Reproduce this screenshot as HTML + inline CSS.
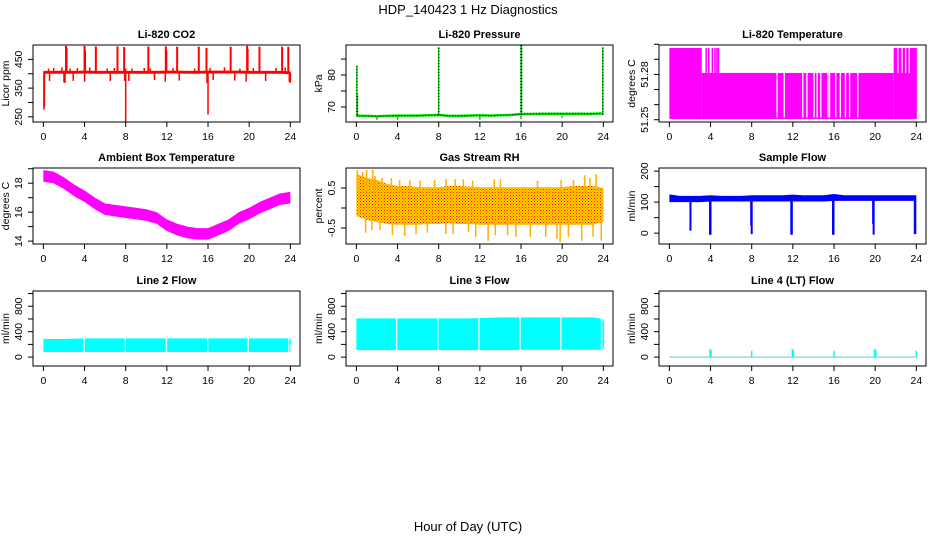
<!DOCTYPE html>
<html><head><meta charset="utf-8"><title>HDP_140423 1 Hz Diagnostics</title>
<style>
html,body{margin:0;padding:0;background:#fff;}
svg{display:block;font-family:"Liberation Sans",Arial,sans-serif;}
.t{font-size:11px;font-weight:bold;text-anchor:middle;}
.tk{font-size:10.5px;text-anchor:middle;}
.yl{font-size:10.5px;text-anchor:middle;}
</style></head>
<body>
<svg id="chart" width="936" height="540" viewBox="0 0 936 540">
<defs>
<pattern id="rhpat" width="3" height="3" patternUnits="userSpaceOnUse">
<rect width="3" height="3" fill="#ffcc00"/><rect x="0" y="0" width="1" height="1" fill="#ff1a00"/><rect x="1.5" y="1.5" width="1" height="1" fill="#ff5a00"/>
</pattern>
</defs>
<text x="468" y="14" font-size="13" text-anchor="middle">HDP_140423  1 Hz Diagnostics</text>
<text x="468" y="531" font-size="13" text-anchor="middle">Hour of Day (UTC)</text>
</svg>
<script>
// ---- data ----
const hours = [0,1,2,3,4,5,6,7,8,9,10,11,12,13,14,15,16,17,18,19,20,21,22,23,24];
const xTicks = [0,4,8,12,16,20,24];

const co2Lo = [400,400,400,400,401,400,400,400,400,400,400,400,401,401,400,400,401,401,401,401,400,400,400,400,398];
const co2Hi = [410,410,411,410,411,410,410,410,410,410,410,410,411,411,410,410,411,411,411,411,410,410,410,410,408];
const co2SpikeH = [2.2,2.25,4.0,4.05,5.1,7.2,7.85,10.2,11.9,11.95,13.0,15.1,15.85,18.2,19.8,19.85,21.0,23.2,23.8];
const co2SpikeV = [497,490,497,480,495,495,493,495,495,480,494,494,490,494,497,486,494,494,494];
const co2DipH = [0.05,0.1,8.0,16.0,2.0,2.9,0.6,6.5,7.9,8.3,10.8,11.85,13.2,15.9,16.5,18.6,19.7,21.6,23.9,24.0,4.0,2.1];
const co2DipV = [275,285,232,258,370,375,375,375,375,375,378,372,376,368,378,376,372,375,372,368,372,368];
const co2UpH = [1.0,1.8,2.6,3.3,4.5,6.2,6.9,8.6,9.8,10.4,12.6,14.7,16.2,17.6,19.1,20.4,22.6,23.5,0.5,8.0];
const co2UpV = [420,422,418,420,422,418,420,418,420,418,420,418,420,422,418,420,420,422,418,418];

const presBase = [67.2,67.2,67.1,67.2,67.3,67.3,67.3,67.4,67.5,67.2,67.2,67.3,67.4,67.3,67.4,67.5,67.8,67.8,67.9,67.9,67.9,67.9,67.9,67.9,68.0];
const presSpikeH = [0.05,0.1,8.0,16.0,16.05,23.95];
const presSpikeV = [83,74,88.8,89.5,89.5,88.8];
const presDipH = [2.0,4.0,12.0,16.0,20.0];
const presDipV = [66.0,66.0,66.0,66.2,66.6];

const tempSegStart = [0,3.15,21.8];
const tempSegEnd = [3.15,21.8,24.05];
const tempSegLevel = [51.2975,51.281,51.2975];
const tempTopH = [3.5,3.75,4.1,4.35,4.55,4.7];
const tempMidH = [22.15,22.55,22.9,23.25];
const tempGapH = [10.4,11.1,12.9,13.3,14.0,14.3,14.65,15.35,15.5,16.1,16.55,17.05,17.45,18.25];

const ambMid = [18.5,18.4,18.0,17.5,17.1,16.6,16.2,16.1,16.0,15.9,15.8,15.6,15.1,14.8,14.6,14.5,14.5,14.8,15.1,15.6,15.9,16.3,16.6,16.9,17.0];
const ambHalf = [0.4,0.4,0.4,0.4,0.4,0.4,0.4,0.4,0.4,0.4,0.4,0.4,0.4,0.4,0.4,0.4,0.4,0.4,0.4,0.4,0.4,0.4,0.4,0.4,0.4];

const rhHi = [0.85,0.75,0.7,0.6,0.55,0.55,0.52,0.52,0.52,0.55,0.55,0.53,0.52,0.52,0.52,0.52,0.52,0.52,0.52,0.52,0.52,0.55,0.55,0.55,0.5];
const rhLo = [-0.2,-0.3,-0.35,-0.4,-0.42,-0.42,-0.42,-0.4,-0.4,-0.38,-0.4,-0.4,-0.42,-0.42,-0.42,-0.42,-0.42,-0.42,-0.42,-0.42,-0.42,-0.42,-0.42,-0.42,-0.35];
const rhUpH = [0.1,0.6,1.0,1.6,1.8,2.5,3.4,4.2,5.2,6.2,7.6,8.7,9.6,10.4,11.3,13.4,14.0,17.6,19.9,21.1,22.2,22.7,23.3];
const rhUpV = [0.95,0.9,0.95,0.95,0.8,0.75,0.75,0.7,0.7,0.68,0.7,0.72,0.72,0.72,0.68,0.72,0.72,0.68,0.7,0.7,0.82,0.75,0.85];
const rhDnH = [0.9,1.5,2.3,3.5,4.7,5.8,6.9,8.7,9.4,10.9,11.6,12.8,13.5,14.7,15.5,16.9,18.4,19.5,19.8,20.6,21.9,23.0,23.8];
const rhDnV = [-0.62,-0.55,-0.55,-0.68,-0.7,-0.65,-0.62,-0.65,-0.65,-0.6,-0.72,-0.82,-0.68,-0.68,-0.72,-0.72,-0.72,-0.78,-0.85,-0.72,-0.82,-0.72,-0.82];

const flowLo = [100,100,100,100,102,102,102,102,102,102,102,102,102,102,102,102,104,104,104,104,104,104,104,104,104];
const flowHi = [125,120,120,120,122,120,120,120,122,122,122,122,124,122,122,122,126,122,122,122,122,122,122,122,122];
const flowDipH = [2.05,3.95,4.0,7.95,8.0,11.85,11.9,15.9,15.95,19.8,19.85,23.85,23.9];
const flowDipV = [8,-5,-5,25,-3,-5,-5,-5,-5,30,-5,-3,-3];

const l2Lo = [80,80,80,80,80,80,80,80,80,80,80,80,80,80,80,80,80,80,80,80,80,80,80,80,80];
const l2Hi = [285,285,285,290,295,295,295,295,295,295,295,295,295,295,295,295,295,295,295,295,295,295,295,295,295];
const l2GapH = [3.9,7.9,11.9,15.9,19.85,23.8];
const l3Lo = [110,110,110,110,110,110,110,110,110,110,110,110,110,110,110,110,115,115,115,115,115,115,115,115,115];
const l3Hi = [610,610,610,610,610,610,610,610,610,610,610,610,615,620,625,625,625,625,625,625,625,625,625,625,600];
const l3GapH = [3.85,7.85,11.85,15.85,19.8,23.75];
const l4SpikeH = [3.95,4.05,8.0,11.95,12.05,16.0,19.95,20.05,24.0];
const l4SpikeV = [130,110,100,130,110,100,130,110,100];

// ---- layout ----
const svg = document.getElementById('chart');
const NS = 'http://www.w3.org/2000/svg';
const colX = [33,346,659], rowTop = [45,168,291], rowBot = [122,244,366];
const W = 267, PXH = 10.29;
function mk(tag, attrs, parent){const e=document.createElementNS(NS,tag);for(const k in attrs)e.setAttribute(k,attrs[k]);(parent||svg).appendChild(e);return e;}

function panel(ci, ri, title, ylab, ymin, ymax, ticks, labels, name){
  const g = mk('g',{});
  
  
  const L=colX[ci], T=rowTop[ri], B=rowBot[ri];
  const x0 = L + 0.96*PXH + 0.5;
  const p = {g, L, T, B,
    X: h => x0 + h*PXH,
    Y: v => B - (v-ymin)/(ymax-ymin)*(B-T)};
  const t = mk('text',{x:L+W/2,y:T-7,class:'t'},g); t.textContent = title;
  
  
  p.marks = mk('g',{},g);
  
  
  const box = mk('rect',{x:L,y:T,width:W,height:B-T,fill:'none',stroke:'#000','stroke-width':1},g);
  
  
  xTicks.forEach(h=>{
    mk('line',{x1:p.X(h),x2:p.X(h),y1:B,y2:B+5,stroke:'#000'},g);
    const tx = mk('text',{x:p.X(h),y:B+18,class:'tk'},g); tx.textContent=h;
    
    
  });
  ticks.forEach(v=>{
    mk('line',{x1:L-5,x2:L,y1:p.Y(v),y2:p.Y(v),stroke:'#000'},g);
  });
  labels.forEach(v=>{
    const ty=p.Y(v), tx=L-11;
    const yt = mk('text',{x:tx,y:ty,class:'tk',transform:`rotate(-90 ${tx} ${ty})`},g); yt.textContent=v;
    
    
  });
  const yx=L-24, yy=(T+B)/2;
  const yl = mk('text',{x:yx,y:yy,class:'yl',transform:`rotate(-90 ${yx} ${yy})`},g); yl.textContent=ylab;
  
  
  return p;
}
function band(p, lo, hi, fill){
  let pts=[];
  hours.forEach((h,i)=>pts.push(p.X(h)+','+p.Y(hi[i])));
  for(let i=hours.length-1;i>=0;i--) pts.push(p.X(hours[i])+','+p.Y(lo[i]));
  const e = mk('polygon',{points:pts.join(' '),fill:fill,stroke:'none'},p.marks);
  
  
}
function vlines(p, hs, vs, base, color, w){
  hs.forEach((h,i)=>{
    const b = Array.isArray(base)? base[i] : base;
    const e = mk('line',{x1:p.X(h),x2:p.X(h),y1:p.Y(b),y2:p.Y(vs[i]),stroke:color,'stroke-width':w||1.5},p.marks);
    
    
  });
}

const p1 = panel(0,0,'Li-820 CO2','Licor ppm',232,500,[250,300,350,400,450],[250,350,450],'co2');
band(p1, co2Lo, co2Hi, '#ff0000');
vlines(p1, co2SpikeH, co2SpikeV, 405, '#ff0000', 2);
vlines(p1, co2DipH, co2DipV, 405, '#ff0000', 1.5);
vlines(p1, co2UpH, co2UpV, 405, '#ff0000', 1.5);

const p2 = panel(1,0,'Li-820 Pressure','kPa',65.3,89.4,[70,75,80,85],[70,80],'pressure');
(function(){
  const pts = hours.map((h,i)=>p2.X(h)+','+p2.Y(presBase[i])).join(' ');
  const a = mk('polyline',{points:pts,fill:'none',stroke:'#00dd00','stroke-width':2.5},p2.marks);
  
  
  const b = mk('polyline',{points:pts,fill:'none',stroke:'#000','stroke-width':1,'stroke-dasharray':'1 2'},p2.marks);
  
  
})();
vlines(p2, presSpikeH, presSpikeV, 67.5, '#00cc00', 1.5);
presSpikeH.forEach((h,i)=>{
  const e = mk('line',{x1:p2.X(h),x2:p2.X(h),y1:p2.Y(67.5),y2:p2.Y(presSpikeV[i]),stroke:'#000','stroke-width':1,'stroke-dasharray':'1 2'},p2.marks);
  
  
});
vlines(p2, presDipH, presDipV, 67.3, '#00cc00', 1.5);

const p3 = panel(2,0,'Li-820 Temperature','degrees C',51.2485,51.2995,[51.25,51.26,51.27,51.28,51.29,51.30],[51.25,51.28],'li820-temp');
tempSegStart.forEach((s,i)=>{
  const e = mk('rect',{x:p3.X(s),y:p3.Y(tempSegLevel[i]),width:p3.X(tempSegEnd[i])-p3.X(s),height:p3.Y(51.2505)-p3.Y(tempSegLevel[i]),fill:'#ff00ff'},p3.marks);
  
  
});
tempTopH.forEach(h=>{
  const e = mk('rect',{x:p3.X(h),y:p3.Y(51.2975),width:1.5*PXH/10,height:p3.Y(51.281)-p3.Y(51.2975),fill:'#ff00ff'},p3.marks);
  
  
});
tempMidH.forEach(h=>{
  const e = mk('rect',{x:p3.X(h),y:p3.Y(51.2975),width:1.2,height:p3.Y(51.281)-p3.Y(51.2975),fill:'#fff'},p3.marks);
  
  
});
tempGapH.forEach(h=>{
  const e = mk('rect',{x:p3.X(h),y:p3.Y(51.281)-0.5,width:1.3,height:p3.Y(51.2505)-p3.Y(51.281)-1,fill:'#fff'},p3.marks);
  
  
});

const p4 = panel(0,1,'Ambient Box Temperature','degrees C',13.8,19.05,[14,15,16,17,18,19],[14,16,18],'ambient-temp');
band(p4, ambMid.map((v,i)=>v-ambHalf[i]), ambMid.map((v,i)=>v+ambHalf[i]), '#ff00ff');

const p5 = panel(1,1,'Gas Stream RH','percent',-0.9,1.0,[-0.5,0,0.5],[-0.5,0.5],'gas-rh');
band(p5, rhLo, rhHi, 'url(#rhpat)');
vlines(p5, rhUpH, rhUpV, 0.4, '#ffb000', 1.5);
vlines(p5, rhDnH, rhDnV, -0.3, '#ffb000', 1.5);

const p6 = panel(2,1,'Sample Flow','ml/min',-35,210,[0,50,100,150,200],[0,100,200],'sample-flow');
band(p6, flowLo, flowHi, '#0000ff');
vlines(p6, flowDipH, flowDipV, 105, '#0000ff', 2);

const p7 = panel(0,2,'Line 2 Flow','ml/min',-140,1040,[0,200,400,600,800,1000],[0,400,800],'line2-flow');
band(p7, l2Lo, l2Hi, '#00ffff');
l2GapH.forEach(h=>{
  const e = mk('rect',{x:p7.X(h),y:p7.Y(300),width:h>23?p7.X(24)-p7.X(h)-1:1.3,height:p7.Y(70)-p7.Y(300),fill:'#fff'},p7.marks);
  
  
});
vlines(p7, [24], [270], 200, '#00ffff', 1.5);

const p8 = panel(1,2,'Line 3 Flow','ml/min',-140,1040,[0,200,400,600,800,1000],[0,400,800],'line3-flow');
band(p8, l3Lo, l3Hi, '#00ffff');
l3GapH.forEach(h=>{
  const e = mk('rect',{x:p8.X(h),y:p8.Y(640),width:h>23?p8.X(24)-p8.X(h)-1:1.3,height:p8.Y(100)-p8.Y(640),fill:'#fff'},p8.marks);
  
  
});
vlines(p8, [24], [570], 150, '#00ffff', 1.5);

const p9 = panel(2,2,'Line 4 (LT) Flow','ml/min',-140,1040,[0,200,400,600,800,1000],[0,400,800],'line4-flow');
(function(){
  const e = mk('line',{x1:p9.X(0),x2:p9.X(24),y1:p9.Y(0),y2:p9.Y(0),stroke:'#9fd8d8','stroke-width':1.5},p9.marks);
  
  
})();
vlines(p9, l4SpikeH, l4SpikeV, 0, '#00ffff', 1.5);
</script>
</body></html>
